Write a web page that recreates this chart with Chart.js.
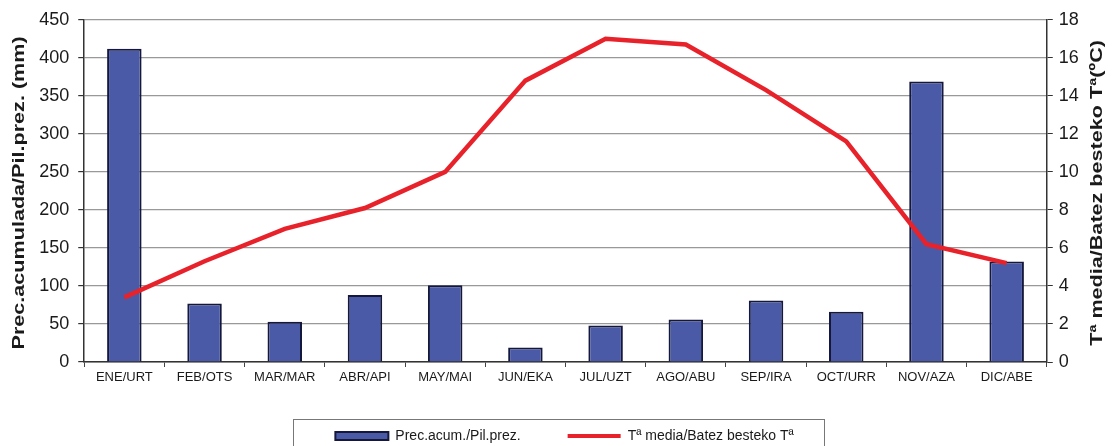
<!DOCTYPE html>
<html>
<head>
<meta charset="utf-8">
<script src="https://cdn.jsdelivr.net/npm/chart.js@4.4.1/dist/chart.umd.min.js"></script>
<style>
html, body { margin: 0; padding: 0; background: #fff; }
#wrap { width: 1115px; height: 446px; }
</style>
</head>
<body>
<div id="wrap"><canvas id="myChart" width="1115" height="446"></canvas></div>
<script>
// Datos del climograma
var meses = ['ENE/URT', 'FEB/OTS', 'MAR/MAR', 'ABR/API', 'MAY/MAI', 'JUN/EKA',
             'JUL/UZT', 'AGO/ABU', 'SEP/IRA', 'OCT/URR', 'NOV/AZA', 'DIC/ABE'];
var precipitacion = [412, 77, 53, 88, 101, 19, 48, 56, 81, 66, 369, 132];
var temperatura = [3.4, 5.3, 7.0, 8.1, 10.0, 14.8, 17.0, 16.7, 14.3, 11.6, 6.2, 5.2];
var ticksPrec = [0, 50, 100, 150, 200, 250, 300, 350, 400, 450];
var ticksTemp = [0, 2, 4, 6, 8, 10, 12, 14, 16, 18];

var tituloIzq = 'Prec.acumulada/Pil.prez. (mm)';
var tituloDer = 'Tª media/Batez besteko Tª(ºC)';
var fuente = "'Liberation Sans', Arial, sans-serif";
var colorTexto = '#1a1a1a';
var desplLeyenda = 7; // la leyenda está algo a la derecha del centro

Chart.defaults.font.family = fuente;
Chart.defaults.color = colorTexto;

// Dibuja un título vertical (de abajo a arriba), algo estirado como en el original
function tituloVertical(c, texto, x, y) {
    c.save();
    c.font = 'bold 17px ' + fuente;
    c.fillStyle = colorTexto;
    c.textAlign = 'center';
    c.textBaseline = 'middle';
    c.translate(x, y);
    c.rotate(-Math.PI / 2);
    c.scale(1.27, 1);
    c.fillText(texto, 0, 0);
    c.restore();
}

// Plugin: títulos de los ejes y marco de la leyenda
var extras = {
    id: 'extras',
    afterLayout: function(chart) {
        chart.legend.left += desplLeyenda;
        chart.legend.right += desplLeyenda;
    },
    afterDraw: function(chart) {
        var c = chart.ctx;
        var area = chart.chartArea;
        var cy = (area.top + area.bottom) / 2 + 2;
        tituloVertical(c, tituloIzq, chart.scales.y.left + 12, cy);
        tituloVertical(c, tituloDer, chart.scales.y1.right - 11, cy);

        var lg = chart.legend;
        var mid = (lg.left + lg.right) / 2 - desplLeyenda;
        c.save();
        c.strokeStyle = '#777';
        c.lineWidth = 1;
        c.strokeRect(Math.round(mid - 265) + 0.5, lg.top + 37.5, 531, 60);
        c.restore();
    }
};

var ctx = document.getElementById('myChart').getContext('2d');
var myChart = new Chart(ctx, {
    type: 'bar',
    data: {
        labels: meses,
        datasets: [{
            type: 'line',
            label: 'Tª media/Batez besteko Tª',
            data: temperatura,
            yAxisID: 'y1',
            borderColor: '#e8222a',
            backgroundColor: '#e8222a',
            borderWidth: 4.5,
            pointRadius: 0,
            tension: 0,
            order: 0
        }, {
            label: 'Prec.acum./Pil.prez.',
            data: precipitacion,
            yAxisID: 'y',
            backgroundColor: '#4a5aa6',
            borderColor: '#15183a',
            borderWidth: 2,
            borderSkipped: 'bottom',
            barPercentage: 0.43,
            categoryPercentage: 1.0,
            order: 1
        }]
    },
    options: {
        responsive: false,
        animation: false,
        layout: { padding: { left: 7, right: 7, top: 9, bottom: 0 } },
        plugins: {
            tooltip: { enabled: false },
            legend: {
                position: 'bottom',
                reverse: true,
                maxHeight: 64,
                labels: {
                    usePointStyle: true,
                    pointStyleWidth: 53,
                    boxHeight: 8,
                    padding: 47,
                    color: colorTexto,
                    font: { size: 14 },
                    generateLabels: function(chart) {
                        var items = Chart.defaults.plugins.legend.labels.generateLabels(chart);
                        items.forEach(function(it) {
                            var ds = chart.data.datasets[it.datasetIndex];
                            if (ds.type === 'line') {
                                it.pointStyle = 'line';
                                it.lineWidth = 4;
                                it.strokeStyle = ds.borderColor;
                            } else {
                                it.pointStyle = 'rect';
                                it.lineWidth = 2;
                            }
                        });
                        return items;
                    }
                }
            }
        },
        scales: {
            x: {
                offset: true,
                afterFit: function(scale) { scale.height = 20; },
                grid: {
                    offset: true,
                    drawOnChartArea: false,
                    drawTicks: true,
                    tickLength: 5,
                    tickColor: '#444'
                },
                border: { color: '#333', width: 1.5 },
                ticks: { font: { size: 13 }, color: colorTexto, padding: 3, maxRotation: 0 }
            },
            y: {
                position: 'left',
                min: 0,
                max: 450,
                afterBuildTicks: function(axis) {
                    axis.ticks = ticksPrec.map(function(v) { return { value: v }; });
                },
                grid: { color: '#999', lineWidth: 1.2, tickLength: 6, tickColor: '#333' },
                border: { color: '#333', width: 1.5 },
                ticks: { font: { size: 18 }, color: colorTexto, padding: 9 },
                title: {
                    display: true,
                    text: tituloIzq,
                    font: { size: 16, weight: 'bold' },
                    color: 'transparent',
                    padding: { top: 0, bottom: 4 }
                }
            },
            y1: {
                position: 'right',
                min: 0,
                max: 18,
                afterBuildTicks: function(axis) {
                    axis.ticks = ticksTemp.map(function(v) { return { value: v }; });
                },
                grid: { drawOnChartArea: false, tickLength: 6, tickColor: '#333' },
                border: { color: '#333', width: 1.5 },
                ticks: { font: { size: 18 }, color: colorTexto, padding: 6 },
                title: {
                    display: true,
                    text: tituloDer,
                    font: { size: 16, weight: 'bold' },
                    color: 'transparent',
                    padding: { top: 4, bottom: 0 }
                }
            }
        }
    },
    plugins: [extras]
});
</script>
</body>
</html>
